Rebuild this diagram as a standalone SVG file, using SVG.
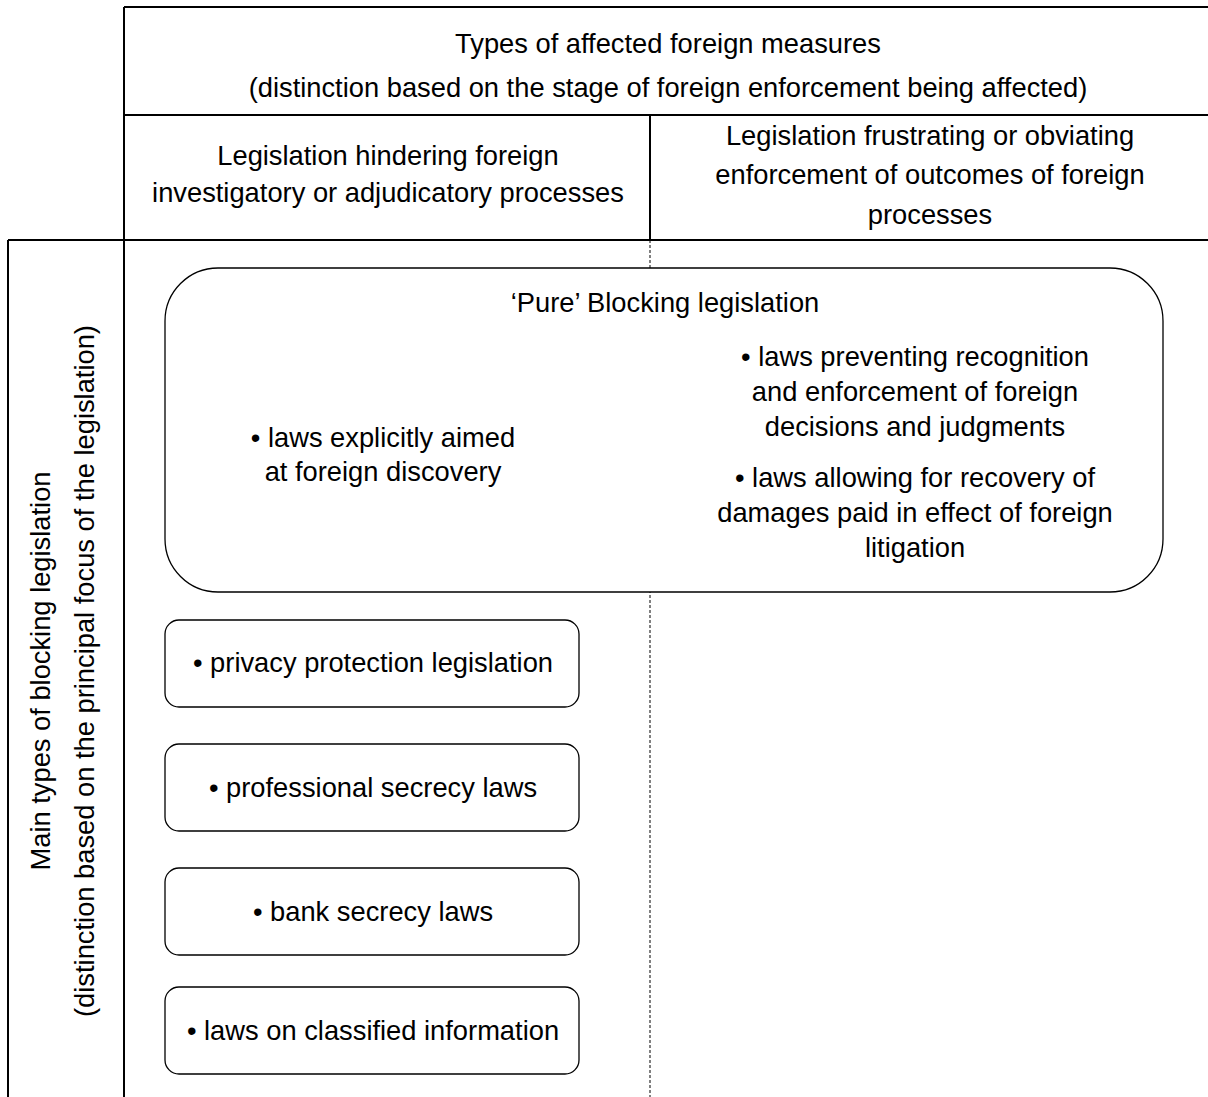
<svg xmlns="http://www.w3.org/2000/svg" width="1208" height="1097" viewBox="0 0 1208 1097">
<style>
text{font-family:"Liberation Sans",Arial,sans-serif;font-size:27.3px;fill:#000;text-anchor:middle}
.grid{stroke:#000;stroke-width:2;fill:none}
.dash{stroke:#000;stroke-width:1;stroke-dasharray:3 2;fill:none}
.box{fill:#fff;stroke:#000;stroke-width:1.3}
</style>
<rect width="1208" height="1097" fill="#fff"/>
<g id="connectors">
<path class="dash" d="M650 240V1097"/>
<path class="grid" d="M124 7H1208M124 7V1097M124 115H1208M650 115V240M8 240H1208M8 240V1097"/>
</g>
<g id="header-types">
<text x="668" y="53">Types of affected foreign measures</text>
<text x="668" y="97">(distinction based on the stage of foreign enforcement being affected)</text>
</g>
<g id="col-hindering">
<text x="388" y="165">Legislation hindering foreign</text>
<text x="388" y="202">investigatory or adjudicatory processes</text>
</g>
<g id="col-frustrating">
<text x="930" y="145">Legislation frustrating or obviating</text>
<text x="930" y="184">enforcement of outcomes of foreign</text>
<text x="930" y="224">processes</text>
</g>
<g id="row-header">
<text transform="translate(50 671) rotate(-90)">Main types of blocking legislation</text>
<text transform="translate(94 671) rotate(-90)">(distinction based on the principal focus of the legislation)</text>
</g>
<g id="pure-blocking">
<rect class="box" x="165" y="268" width="998" height="324" rx="53" ry="53"/>
<text x="665" y="312">‘Pure’ Blocking legislation</text>
<text x="383" y="447">• laws explicitly aimed</text>
<text x="383" y="481">at foreign discovery</text>
<text x="915" y="366">• laws preventing recognition</text>
<text x="915" y="401">and enforcement of foreign</text>
<text x="915" y="436">decisions and judgments</text>
<text x="915" y="487">• laws allowing for recovery of</text>
<text x="915" y="522">damages paid in effect of foreign</text>
<text x="915" y="557">litigation</text>
</g>
<g id="privacy">
<rect class="box" x="165" y="620" width="414" height="87" rx="14" ry="14"/>
<text x="373" y="672">• privacy protection legislation</text>
</g>
<g id="professional">
<rect class="box" x="165" y="744" width="414" height="87" rx="14" ry="14"/>
<text x="373" y="797">• professional secrecy laws</text>
</g>
<g id="bank">
<rect class="box" x="165" y="868" width="414" height="87" rx="14" ry="14"/>
<text x="373" y="921">• bank secrecy laws</text>
</g>
<g id="classified">
<rect class="box" x="165" y="987" width="414" height="87" rx="14" ry="14"/>
<text x="373" y="1040">• laws on classified information</text>
</g>
</svg>
